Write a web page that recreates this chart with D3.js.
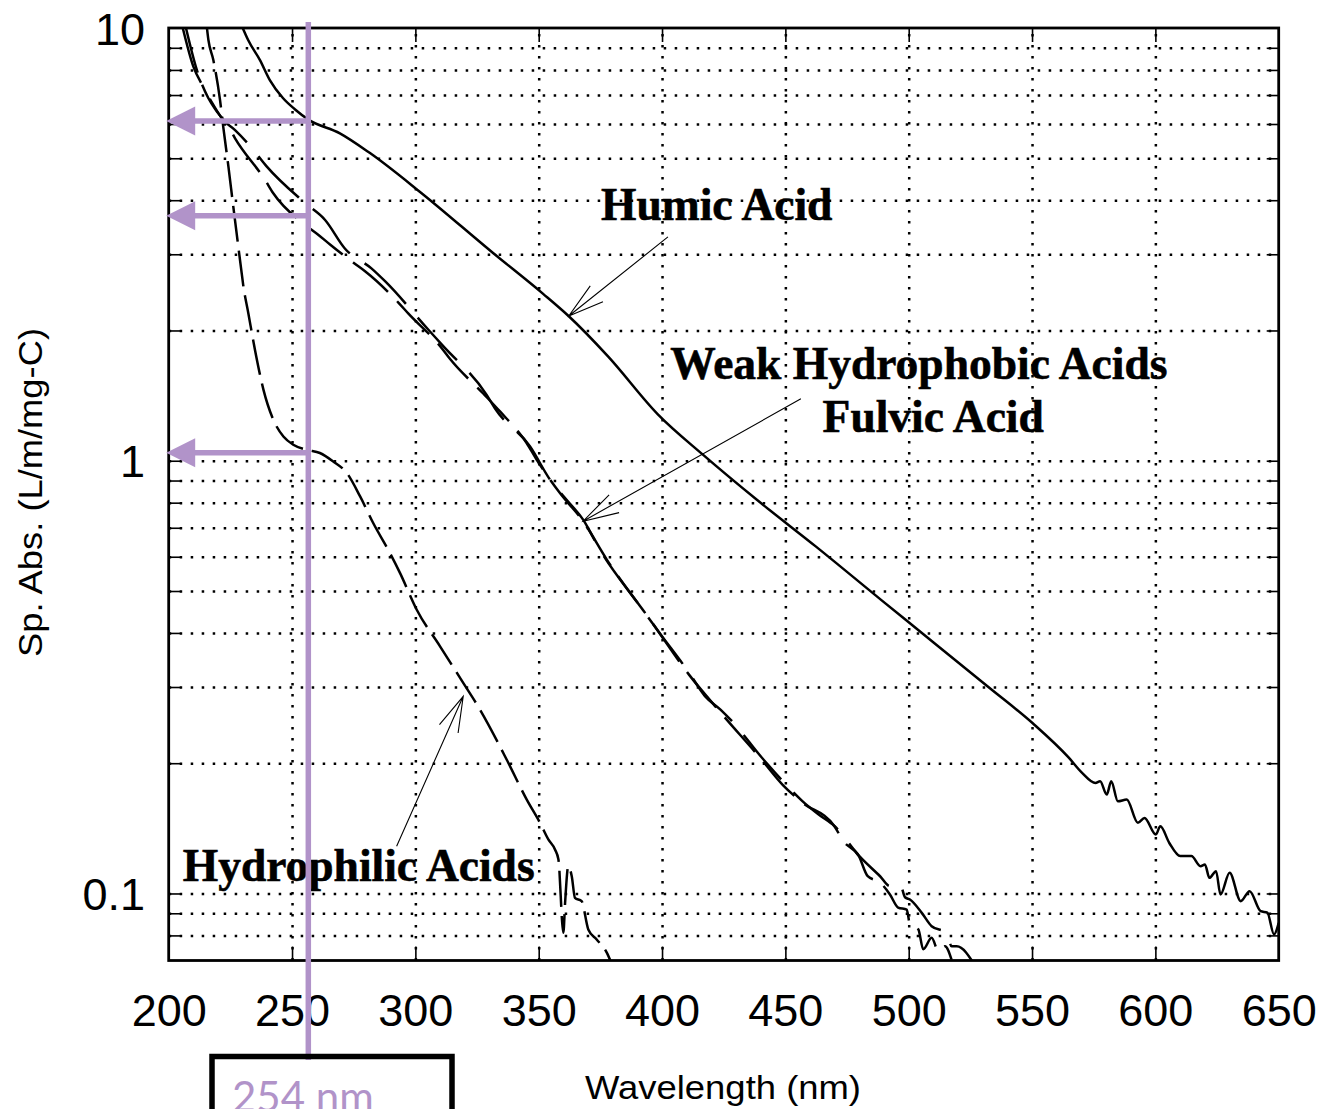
<!DOCTYPE html>
<html>
<head>
<meta charset="utf-8">
<script src="https://cdn.jsdelivr.net/npm/d3@7"></script>
<style>
  body { margin: 0; background: #fff; }
  svg { display: block; }
</style>
</head>
<body>
<div class="container"></div>
<script>
const w = 1322;
const h = 1109;
const margin = { top: 28, right: 43.3, bottom: 148.5, left: 168.7 };
const width = w - margin.left - margin.right;
const height = h - margin.top - margin.bottom;

const purple = "#b193c9";

// axis values
const xTicks = [200, 250, 300, 350, 400, 450, 500, 550, 600, 650];
const yLabelTicks = [0.1, 1, 10];
const yGrid = [0.08, 0.09, 0.1, 0.2, 0.3, 0.4, 0.5, 0.6, 0.7, 0.8, 0.9,
               1, 2, 3, 4, 5, 6, 7, 8, 9];

// spectra: [wavelength nm, specific absorbance L/m/mg-C]
const humicAcid = [
  [230, 10.0], [232.2, 9.38], [237, 8.43], [241, 7.58], [246.3, 6.89], [251, 6.5],
  [256.5, 6.15], [269.4, 5.71], [281.6, 5.14], [301.9, 4.18], [331.5, 3.02],
  [351.8, 2.43], [362.1, 2.16], [378.2, 1.74], [398.3, 1.28], [416.8, 1.03],
  [438.7, 0.81], [462.3, 0.634], [488.8, 0.477], [505.1, 0.401], [532.3, 0.30],
  [550.4, 0.247], [564.9, 0.206], [570.3, 0.19], [575.7, 0.180], [577.6, 0.1817],
  [580.3, 0.1693], [582.1, 0.1817], [584.8, 0.1633], [588.4, 0.1648], [592.9, 0.1457],
  [595.6, 0.1495], [600.2, 0.1369], [602, 0.143], [605.6, 0.131], [610.1, 0.122],
  [614.6, 0.122], [618.3, 0.1156], [620.1, 0.1167], [621.9, 0.1087], [624.6, 0.1126],
  [626.4, 0.0995], [630.1, 0.1117], [634.6, 0.096], [638.2, 0.1012], [642.7, 0.091],
  [645.4, 0.0903], [648.1, 0.0804], [650, 0.0855]
];

const weakHydrophobicAcids = [
  [205.7, 10.0], [210, 8.14], [214, 7.32], [218.1, 6.64], [222.1, 6.13], [226.9, 5.81],
  [234.3, 5.23], [239.7, 4.79], [255.3, 3.94], [263.4, 3.60], [271.5, 3.09],
  [282.3, 2.78], [287.7, 2.60], [305.2, 2.01], [311.3, 1.84], [328.9, 1.42],
  [332.3, 1.32], [346.5, 1.079], [354.6, 0.904], [361.3, 0.812], [368, 0.731],
  [374.8, 0.623], [391, 0.462], [399, 0.40], [411, 0.3234], [417.4, 0.2858],
  [423.7, 0.266], [429, 0.2478], [440, 0.2075], [449, 0.1817], [457, 0.1633],
  [463.5, 0.1522], [470, 0.143], [480, 0.122], [488.4, 0.1096], [492.4, 0.104],
  [496.5, 0.1052], [498.5, 0.098], [500.5, 0.0968], [505.3, 0.0902], [509.3, 0.084],
  [515.4, 0.0811], [517.4, 0.0755], [519.5, 0.0755], [527, 0.068]
];

const fulvicAcid = [
  [207, 10.0], [211.4, 8.0], [216.1, 6.88], [220.1, 6.35], [224.2, 5.92], [226.9, 5.56],
  [239, 4.46], [242.4, 4.15], [255.3, 3.51], [260.6, 3.33], [265.4, 3.16],
  [274.8, 2.87], [279.6, 2.74], [293.1, 2.32], [297.1, 2.19], [310.7, 1.82],
  [314, 1.72], [327.5, 1.43], [334.3, 1.30], [345.1, 1.099], [349.2, 1.005],
  [358.6, 0.842], [368, 0.725], [377.6, 0.591], [395.6, 0.4256], [411, 0.32],
  [423.7, 0.262], [440, 0.205], [449, 0.178], [457, 0.162], [469.9, 0.143],
  [473.5, 0.1321], [479.8, 0.122], [483.4, 0.1096], [488.4, 0.106], [492.4, 0.0995],
  [495.7, 0.0928], [499.2, 0.0918], [500.5, 0.0848], [503.9, 0.0826], [505.9, 0.0743],
  [509.3, 0.079], [512, 0.0736], [514.7, 0.0755], [517.4, 0.0702]
];

const hydrophilicAcids = [
  [215.5, 10.0], [216.1, 9.38], [218.1, 8.43], [220.8, 6.82], [222.1, 5.92],
  [224.2, 4.79], [226.2, 3.86], [228.2, 3.13], [229.6, 2.71], [230.2, 2.55],
  [232.3, 2.19], [235, 1.80], [238.4, 1.46], [243.1, 1.22], [246.5, 1.138],
  [250.5, 1.089], [256, 1.06], [261.3, 1.042], [266.7, 0.996], [272.2, 0.937],
  [277.6, 0.827], [282.9, 0.718], [289.7, 0.612], [293.8, 0.55], [300.5, 0.453],
  [310, 0.3725], [319.4, 0.3066], [326.2, 0.266], [337, 0.204], [345.1, 0.165],
  [350.5, 0.1457], [353.9, 0.1333], [356.6, 0.1264], [358, 0.1198], [360, 0.0811],
  [360.7, 0.0952], [362, 0.1156], [363.4, 0.1096], [364.7, 0.0977], [367.4, 0.096],
  [370.1, 0.0826], [373.5, 0.0783], [377.6, 0.073], [379.5, 0.069]
];

const seriesNames = ["Humic Acid", "Weak Hydrophobic Acids", "Fulvic Acid", "Hydrophilic Acids"];

// 254 nm reading lines
const markerLabel = "254 nm";
const markerNm = 256.6;
const markerReadings = [6.1, 3.68, 1.043];

const svg = d3.select('.container').append('svg')
  .attr('width', w)
  .attr('height', h)
  .style('background', '#fff');

const chart = svg.append('g')
  .attr('transform', `translate(${margin.left}, ${margin.top})`);

const x = d3.scaleLinear().domain([200, 650]).range([0, width]);
const y = d3.scaleLog().domain([0.07, 10]).range([height, 0]);

svg.append('defs').append('clipPath').attr('id', 'clip')
  .append('rect').attr('width', width).attr('height', height);

// dotted grid
const dotted = g => g.selectAll('.tick line')
  .attr('stroke', '#000')
  .attr('stroke-width', 2.5)
  .attr('stroke-dasharray', '2.5,8.5');

chart.append('g')
  .attr('transform', `translate(0, ${height})`)
  .call(d3.axisBottom(x).tickValues(xTicks.slice(1, -1)).tickSize(-height).tickFormat(''))
  .call(g => g.select('.domain').remove())
  .call(dotted);

chart.append('g')
  .call(d3.axisLeft(y).tickValues(yGrid).tickSize(-width).tickFormat(''))
  .call(g => g.select('.domain').remove())
  .call(dotted);

// curves
const line = d3.line()
  .x(d => x(d[0]))
  .y(d => y(d[1]))
  .curve(d3.curveMonotoneX);

const series = [
  { name: seriesNames[0], data: humicAcid, dash: null },
  { name: seriesNames[1], data: weakHydrophobicAcids, dash: '58,18' },
  { name: seriesNames[2], data: fulvicAcid, dash: '46,13' },
  { name: seriesNames[3], data: hydrophilicAcids, dash: '36,9' }
];

chart.append('g')
  .attr('clip-path', 'url(#clip)')
  .selectAll('path')
  .data(series)
  .enter().append('path')
  .attr('d', d => line(d.data))
  .attr('fill', 'none')
  .attr('stroke', '#000')
  .attr('stroke-width', 2.5)
  .attr('stroke-dasharray', d => d.dash);

// inward ticks
const tickStyle = g => {
  g.select('.domain').remove();
  g.selectAll('.tick line').attr('stroke', '#000').attr('stroke-width', 1.6);
};

const bottomAxis = chart.append('g')
  .attr('transform', `translate(0, ${height})`)
  .call(d3.axisBottom(x).tickValues(xTicks).tickSize(-14).tickPadding(33.5).tickFormat(d3.format('d')))
  .call(tickStyle);

chart.append('g')
  .call(d3.axisTop(x).tickValues(xTicks).tickSize(-14).tickFormat(''))
  .call(tickStyle);

chart.append('g')
  .call(d3.axisLeft(y).tickValues(yGrid).tickSize(-12).tickFormat(''))
  .call(tickStyle);

chart.append('g')
  .attr('transform', `translate(${width}, 0)`)
  .call(d3.axisRight(y).tickValues(yGrid).tickSize(-12).tickFormat(''))
  .call(tickStyle);

const leftAxis = chart.append('g')
  .call(d3.axisLeft(y).tickValues(yLabelTicks).tickSize(0).tickPadding(23.7).tickFormat(d3.format('~g')))
  .call(g => g.select('.domain').remove());

[bottomAxis, leftAxis].forEach(a => a.selectAll('text')
  .attr('fill', '#000')
  .attr('font-family', '"Liberation Sans", Arial, sans-serif')
  .attr('font-size', 45));
leftAxis.selectAll('text').attr('dy', '0.36em');

// frame
chart.append('rect')
  .attr('width', width)
  .attr('height', height)
  .attr('fill', 'none')
  .attr('stroke', '#000')
  .attr('stroke-width', 2.8);

// curve annotations
const notes = [
  { text: seriesNames[0], at: [375.3, 3.6], tail: [402.4, 3.29], tip: [362.2, 2.16] },
  { text: seriesNames[1], at: [403.3, 1.547], tail: [456.3, 1.39], tip: [368, 0.725] },
  { text: seriesNames[2], at: [465.1, 1.167], tail: null, tip: null },
  { text: seriesNames[3], at: [205.7, 0.1068], tail: [292.4, 0.1286], tip: [319.4, 0.2855] }
];

chart.append('g').selectAll('text')
  .data(notes)
  .enter().append('text')
  .attr('x', d => x(d.at[0]))
  .attr('y', d => y(d.at[1]))
  .attr('font-family', '"Liberation Serif", "Times New Roman", serif')
  .attr('font-weight', 'bold')
  .attr('font-size', 45.5)
  .attr('fill', '#000')
  .attr('stroke', '#000')
  .attr('stroke-width', 0.6)
  .text(d => d.text);

function arrowPath(d) {
  const x1 = x(d.tail[0]), y1 = y(d.tail[1]);
  const x2 = x(d.tip[0]), y2 = y(d.tip[1]);
  const ang = Math.atan2(y1 - y2, x1 - x2);
  const len = 37, spread = 16 * Math.PI / 180;
  const p = d3.path();
  p.moveTo(x1, y1);
  p.lineTo(x2, y2);
  p.moveTo(x2 + len * Math.cos(ang - spread), y2 + len * Math.sin(ang - spread));
  p.lineTo(x2, y2);
  p.lineTo(x2 + len * Math.cos(ang + spread), y2 + len * Math.sin(ang + spread));
  return p.toString();
}

chart.append('g').selectAll('path')
  .data(notes.filter(d => d.tail))
  .enter().append('path')
  .attr('d', arrowPath)
  .attr('fill', 'none')
  .attr('stroke', '#000')
  .attr('stroke-width', 1.1);

// axis titles
svg.append('text')
  .attr('x', 585)
  .attr('y', 1099)
  .attr('font-family', '"Liberation Sans", Arial, sans-serif')
  .attr('font-size', 34)
  .attr('textLength', 276)
  .attr('lengthAdjust', 'spacingAndGlyphs')
  .text('Wavelength (nm)');

svg.append('text')
  .attr('transform', 'translate(42, 492.5) rotate(-90)')
  .attr('text-anchor', 'middle')
  .attr('font-family', '"Liberation Sans", Arial, sans-serif')
  .attr('font-size', 34)
  .attr('textLength', 329)
  .attr('lengthAdjust', 'spacingAndGlyphs')
  .text('Sp. Abs. (L/m/mg-C)');

// 254 nm marker
const mx = margin.left + x(markerNm);
svg.append('line')
  .attr('x1', mx).attr('x2', mx)
  .attr('y1', 22).attr('y2', 1060)
  .attr('stroke', purple)
  .attr('stroke-width', 5.5);

const readings = svg.append('g')
  .selectAll('g')
  .data(markerReadings)
  .enter().append('g')
  .attr('transform', d => `translate(0, ${margin.top + y(d)})`);

readings.append('line')
  .attr('x1', margin.left + x(200) + 20)
  .attr('x2', mx)
  .attr('stroke', purple)
  .attr('stroke-width', 5.5);

readings.append('path')
  .attr('d', () => {
    const tip = margin.left + x(200) - 2.5;
    return `M${tip},0L${tip + 29},-14.5L${tip + 29},14.5Z`;
  })
  .attr('fill', purple);

svg.append('rect')
  .attr('x', 212)
  .attr('y', 1056.5)
  .attr('width', 240)
  .attr('height', 120)
  .attr('fill', 'none')
  .attr('stroke', '#000')
  .attr('stroke-width', 5.5);

svg.append('text')
  .attr('x', 232)
  .attr('y', 1112)
  .attr('font-family', 'Lato, "Open Sans", sans-serif')
  .attr('font-size', 42)
  .attr('fill', purple)
  .text(markerLabel);
</script>
</body>
</html>
